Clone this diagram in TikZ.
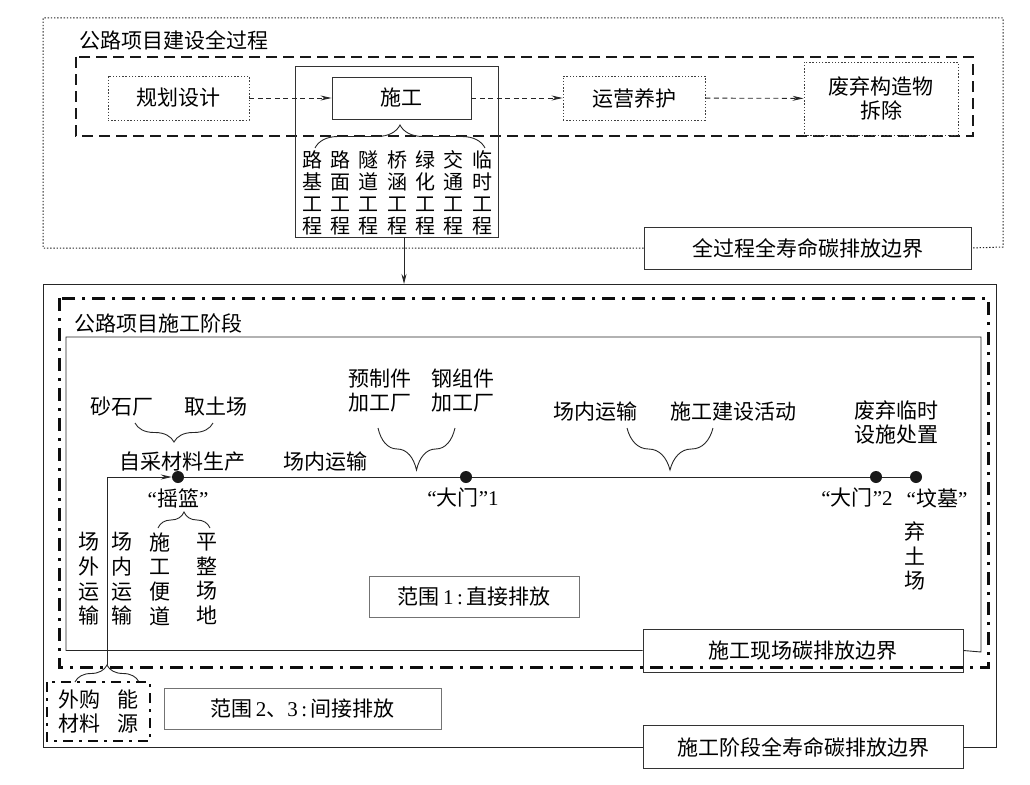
\documentclass[tikz,border=0pt]{standalone}
\usepackage{fontspec}
\setmainfont{Noto Sans CJK SC}
\newfontfamily\lat{Liberation Serif}
\usetikzlibrary{arrows.meta,decorations.pathreplacing,calc}
\begin{document}
\begin{tikzpicture}[x=1pt,y=-1pt,
  txt/.style={font=\fontsize{21}{24}\selectfont, inner sep=0pt, align=center},
  colA/.style={font=\fontsize{20}{22}\selectfont, inner sep=0pt, align=center},
  colB/.style={font=\fontsize{21}{24.7}\selectfont, inner sep=0pt, align=center},
  solidbox/.style={draw=black!80, line width=0.9pt, inner sep=0pt, font=\fontsize{21}{24}\selectfont, align=center},
  graybox/.style={draw=black!55, line width=0.9pt, inner sep=0pt, font=\fontsize{21}{24}\selectfont, align=center},
  dotbox/.style={draw=black!75, line width=0.9pt, dash pattern=on 1.4pt off 1.8pt, inner sep=0pt, font=\fontsize{21}{24}\selectfont, align=center},
  finedot/.style={draw=black!85, line width=1pt, dash pattern=on 1.4pt off 1.8pt},
  thickdash/.style={draw=black!90, line width=2.4pt, dash pattern=on 11pt off 6pt},
  dashdotline/.style={draw=black!95, line width=3pt, dash pattern=on 13pt off 7pt on 3pt off 7pt},
  flow/.style={draw=black!85, line width=0.9pt, dash pattern=on 5pt off 3.5pt, -{Stealth[length=11pt,width=5pt]}},
  conn/.style={draw=black!85, line width=0.9pt},
  brc/.style={draw=black!85, line width=0.9pt, decorate},
  dotmark/.style={circle, fill=black!90, inner sep=0pt, minimum size=12pt},
]
\useasboundingbox (0,0) rectangle (1030,784);

% ===== top part =====
\node[solidbox, minimum width=327, minimum height=42] (lb0) at (807.5,248) {全过程全寿命碳排放边界};
\draw[finedot] (lb0.west) -| (43,18) -| (1003,247) -- (lb0.east);
\node[txt] (title0) at (174,40) {公路项目建设全过程};
\draw[thickdash] (76,57) rectangle (973,136);

\node[dotbox, minimum width=141, minimum height=44] (plan) at (178.5,98) {规划设计};
\node[solidbox, minimum width=203, minimum height=171] (frame) at (396.5,151.5) {};
\node[solidbox, minimum width=139, minimum height=42] (cons) at (401.5,98) {施工};
\node[dotbox, minimum width=142, minimum height=44] (oper) at (634,98) {运营养护};
\node[dotbox, minimum width=154, minimum height=73] (demo) at (881,98.5) {废弃构造物\\拆除};

\draw[flow] (plan) -- (cons);
\draw[flow] (cons) -- (oper);
\draw[flow] (oper) -- (demo);

\draw[brc, decoration={brace, amplitude=23pt}] (315,148) -- (485,148);
\node[colA] (w1) at (312,193) {路\\基\\工\\程};
\node[colA] (w2) at (340,193) {路\\面\\工\\程};
\node[colA] (w3) at (368,193) {隧\\道\\工\\程};
\node[colA] (w4) at (397,193) {桥\\涵\\工\\程};
\node[colA] (w5) at (425,193) {绿\\化\\工\\程};
\node[colA] (w6) at (453,193) {交\\通\\工\\程};
\node[colA] (w7) at (482,193) {临\\时\\工\\程};

\coordinate (arrX) at (404,0);
\coordinate (lowTop) at (404,284);
\draw[conn, -{Stealth[length=10pt,width=5pt]}] (frame.south -| arrX) -- (lowTop);

% ===== lower part =====
\node[solidbox, minimum width=320, minimum height=43] (lb2) at (803,747) {施工阶段全寿命碳排放边界};
\draw[conn] (lb2.west) -| (43,284) -| (996,747) -- (lb2.east);
\draw[dashdotline] (59,298) rectangle (988,667);
\node[txt] (title1) at (158.5,323) {公路项目施工阶段};
\node[solidbox, minimum width=320, minimum height=43] (lb1) at (803,650.5) {施工现场碳排放边界};
\draw[conn] (lb1.west) -| (66,337) -| (981,652) -- (lb1.east);

\node[graybox, minimum width=210, minimum height=41] (r1) at (474,596.5) {范围{\lat\,1\,:\,}直接排放};
\node[graybox, minimum width=277, minimum height=41] (r23) at (302.5,708.5) {范围{\lat\,2}、{\lat 3\,:\,}间接排放};

% main line
\coordinate (corner) at (107,477);
\node[dotmark] (cradle) at (178,477) {};
\node[dotmark] (gate1) at (466,477) {};
\node[dotmark] (gate2) at (876,477) {};
\node[dotmark] (grave) at (916,477) {};
\coordinate (extTip) at (107,665);
\draw[conn] (extTip) -- (corner);
\draw[conn, -{Stealth[length=11pt,width=5pt]}] (corner) -- (cradle.west);
\draw[conn] (cradle) -- (gate1) -- (gate2) -- (grave);

% labels
\node[txt] (sand) at (122,407) {砂石厂};
\node[txt] (soil) at (216,407) {取土场};
\draw[brc, decoration={brace, amplitude=19pt}] (213,423) -- (135,423);
\node[txt] (self) at (182,462) {自采材料生产};
\node[txt] (tr1) at (325,462) {场内运输};
\node[txt] (pre) at (380,390.5) {预制件\\加工厂};
\node[txt] (steel) at (463,390.5) {钢组件\\加工厂};
\draw[brc, decoration={brace, amplitude=42pt}] (455,428) -- (378,428);
\node[txt] (lcr) at (178,498) {{\lat “}摇篮{\lat ”}};
\node[txt] (lg1) at (463,498) {{\lat “}大门{\lat ”1}};
\node[txt] (lg2) at (857,498) {{\lat “}大门{\lat ”2}};
\node[txt] (lgr) at (937,498) {{\lat “}坟墓{\lat ”}};
\node[txt] (tr2) at (595,412) {场内运输};
\node[txt] (act) at (733,412) {施工建设活动};
\draw[brc, decoration={brace, amplitude=42pt}] (713,428) -- (627,428);
\node[txt] (disp) at (896,422) {废弃临时\\设施处置};

\draw[brc, decoration={brace, amplitude=16pt}] (158,528) -- (210,528);
\node[colB] (k1) at (89,579) {场\\外\\运\\输};
\node[colB] (k2) at (122,579) {场\\内\\运\\输};
\node[colB] (k3) at (160,579) {施\\工\\便\\道};
\node[colB] (k4) at (207,579) {平\\整\\场\\地};
\node[colB] (spoil) at (915,556) {弃\\土\\场};

% external
\draw[brc, decoration={brace, amplitude=17pt}] (75,682) -- (139,682);
\draw[dashdotline, line width=2.6pt, dash pattern=on 10pt off 6pt on 3pt off 6pt] (47,682) rectangle (150,741);
\node[txt] (buy) at (79,711) {外购\\材料};
\node[txt] (eng) at (128,711) {能\\源};
\end{tikzpicture}
\end{document}
